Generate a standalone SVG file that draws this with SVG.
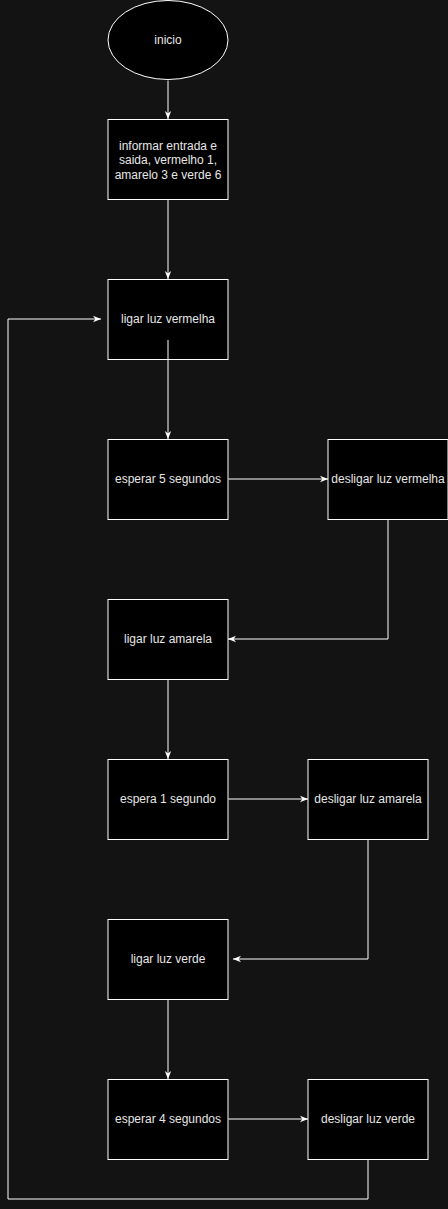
<svg xmlns="http://www.w3.org/2000/svg" width="448" height="1209" viewBox="0 0 448 1209">
<style>
.n{fill:#000000;stroke:#ffffff;stroke-width:1}
.t{font-family:"Liberation Sans",Arial,sans-serif;font-size:12px;fill:#e6e6e6;text-anchor:middle}
.c{fill:none;stroke:#ffffff;stroke-width:1}
</style>
<defs>
<marker id="a" viewBox="0 0 10 10" refX="10" refY="5" markerWidth="8" markerHeight="8" markerUnits="userSpaceOnUse" orient="auto">
<path d="M0,1 L10,5 L0,9 L3,5 z" fill="#ffffff"/>
</marker>
</defs>
<rect width="448" height="1209" fill="#131313"/>
<g id="connectors">
<path class="c" d="M168,80.5 L168,119" marker-end="url(#a)"/>
<path class="c" d="M168,199.5 L168,279" marker-end="url(#a)"/>
<path class="c" d="M168,340 L168,439" marker-end="url(#a)"/>
<path class="c" d="M228.5,479 L328,479" marker-end="url(#a)"/>
<path class="c" d="M388,519.5 L388,639 L228,639" marker-end="url(#a)"/>
<path class="c" d="M168,679.5 L168,759" marker-end="url(#a)"/>
<path class="c" d="M228.5,799 L308,799" marker-end="url(#a)"/>
<path class="c" d="M368,839.5 L368,959 L233,959" marker-end="url(#a)"/>
<path class="c" d="M168,999.5 L168,1079" marker-end="url(#a)"/>
<path class="c" d="M228.5,1119 L308,1119" marker-end="url(#a)"/>
<path class="c" d="M368,1159.5 L368,1199 L8,1199 L8,319 L101,319" marker-end="url(#a)"/>
</g>
<g id="inicio"><ellipse class="n" cx="168" cy="40" rx="60" ry="39.5"/><text class="t" x="168" y="44">inicio</text></g>
<g id="informar"><rect class="n" x="108" y="119.5" width="120" height="80"/><text class="t" x="168" y="150">informar entrada e</text><text class="t" x="168" y="164">saida, vermelho 1,</text><text class="t" x="168" y="179">amarelo 3 e verde 6</text></g>
<g id="ligar-vermelha"><rect class="n" x="108" y="279.5" width="120" height="80"/><text class="t" x="168" y="323">ligar luz vermelha</text></g>
<line class="c" x1="168" y1="340" x2="168" y2="360"/>
<g id="esperar5"><rect class="n" x="108" y="439.5" width="120" height="80"/><text class="t" x="168" y="483">esperar 5 segundos</text></g>
<g id="desligar-vermelha"><rect class="n" x="328" y="439.5" width="120" height="80"/><text class="t" x="388" y="483">desligar luz vermelha</text></g>
<g id="ligar-amarela"><rect class="n" x="108" y="599.5" width="120" height="80"/><text class="t" x="168" y="643">ligar luz amarela</text></g>
<g id="espera1"><rect class="n" x="108" y="759.5" width="120" height="80"/><text class="t" x="168" y="803">espera 1 segundo</text></g>
<g id="desligar-amarela"><rect class="n" x="308" y="759.5" width="120" height="80"/><text class="t" x="368" y="803">desligar luz amarela</text></g>
<g id="ligar-verde"><rect class="n" x="108" y="919.5" width="120" height="80"/><text class="t" x="168" y="963">ligar luz verde</text></g>
<g id="esperar4"><rect class="n" x="108" y="1079.5" width="120" height="80"/><text class="t" x="168" y="1123">esperar 4 segundos</text></g>
<g id="desligar-verde"><rect class="n" x="308" y="1079.5" width="120" height="80"/><text class="t" x="368" y="1123">desligar luz verde</text></g>
</svg>
